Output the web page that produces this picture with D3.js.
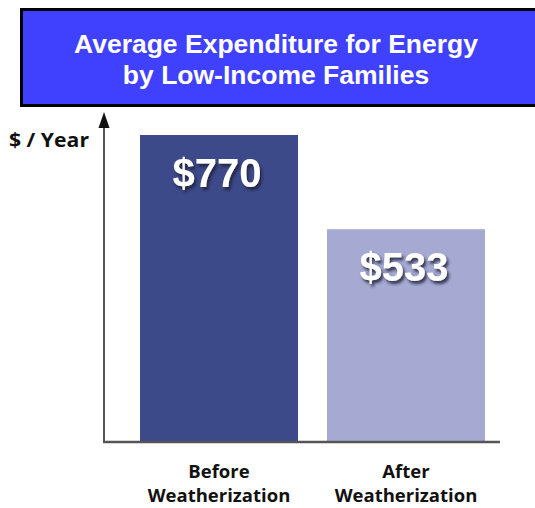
<!DOCTYPE html>
<html>
<head>
<meta charset="utf-8">
<script src="https://cdn.jsdelivr.net/npm/d3@7"></script>
<style>
  body { margin: 0; background: #fff; }
  svg { display: block; }
</style>
</head>
<body>
<svg id="chart" width="535" height="508"></svg>
<script>
const titleLines = ["Average Expenditure for Energy", "by Low-Income Families"]
const categories = [["Before", "Weatherization"], ["After", "Weatherization"]]
const values = [770, 533]
const valueLabels = ["$770", "$533"]
const barColors = ["#3d4a8a", "#a6aad2"]
const yLabel = "$ / Year"

const svg = d3.select('#chart')

const defs = svg.append('defs')
const shadow = defs.append('filter').attr('id', 'shadow')
    .attr('x', '-20%').attr('y', '-20%').attr('width', '140%').attr('height', '150%')
shadow.append('feDropShadow')
    .attr('dx', 2).attr('dy', 3).attr('stdDeviation', 1.5)
    .attr('flood-color', '#1a1a3a').attr('flood-opacity', 0.85)

// title box
svg.append('rect')
    .attr('x', 21.5).attr('y', 9.5)
    .attr('width', 540).attr('height', 96)
    .attr('fill', '#4040ff')
    .attr('stroke', '#000')
    .attr('stroke-width', 3)

svg.append('g')
    .selectAll('text')
    .data(titleLines)
    .join('text')
    .attr('x', 276)
    .attr('y', function(d, i){ return 53 + i * 31 })
    .attr('text-anchor', 'middle')
    .attr('fill', '#fff')
    .attr('font-family', 'Liberation Sans, Arial, sans-serif')
    .attr('font-weight', 'bold')
    .attr('font-size', 26.5)
    .text(function(d){ return d })

const x = d3.scaleBand()
    .domain(d3.range(values.length))
    .range([104, 521])
    .paddingInner(0.155)
    .paddingOuter(0.1925)

const y = d3.scaleLinear()
    .domain([0, 770])
    .range([441, 135])

// bars
svg.append('g')
    .selectAll('rect')
    .data(values)
    .join('rect')
    .attr('x', function(d, i){ return x(i) })
    .attr('width', x.bandwidth())
    .attr('y', function(d){ return y(d) })
    .attr('height', function(d){ return y(0) - y(d) })
    .attr('fill', function(d, i){ return barColors[i] })

// value labels
svg.append('g')
    .selectAll('text')
    .data(values)
    .join('text')
    .attr('x', function(d, i){ return x(i) + x.bandwidth() / 2 - 2 })
    .attr('y', function(d){ return y(d) + 52 })
    .attr('text-anchor', 'middle')
    .attr('fill', '#fff')
    .attr('filter', 'url(#shadow)')
    .attr('font-family', 'Liberation Sans, Arial, sans-serif')
    .attr('font-weight', 'bold')
    .attr('font-size', 40)
    .text(function(d, i){ return valueLabels[i] })

// axes
const axisColor = '#555'
svg.append('line')
    .attr('x1', 104).attr('x2', 104)
    .attr('y1', 125).attr('y2', 442)
    .attr('stroke', axisColor).attr('stroke-width', 2)
svg.append('path')
    .attr('d', 'M104,112 L98.5,128 L109.5,128 Z')
    .attr('fill', '#111')
svg.append('line')
    .attr('x1', 103).attr('x2', 500)
    .attr('y1', 442).attr('y2', 442)
    .attr('stroke', axisColor).attr('stroke-width', 2.5)

svg.append('text')
    .attr('x', 9)
    .attr('y', 147)
    .attr('fill', '#111')
    .attr('font-family', 'Open Sans, sans-serif')
    .attr('font-weight', 'bold')
    .attr('font-size', 20)
    .attr('textLength', 80)
    .attr('lengthAdjust', 'spacingAndGlyphs')
    .text(yLabel)

// category labels, one text per line
const catLines = []
categories.forEach(function(lines, i){
    lines.forEach(function(t, j){ catLines.push({t: t, i: i, j: j}) })
})

svg.append('g')
    .selectAll('text')
    .data(catLines)
    .join('text')
    .attr('x', function(d){ return x(d.i) + x.bandwidth() / 2 })
    .attr('y', function(d){ return 478 + d.j * 24 })
    .attr('text-anchor', 'middle')
    .attr('fill', '#111')
    .attr('font-family', 'Open Sans, sans-serif')
    .attr('font-weight', 'bold')
    .attr('font-size', 18.5)
    .text(function(d){ return d.t })
</script>
</body>
</html>
